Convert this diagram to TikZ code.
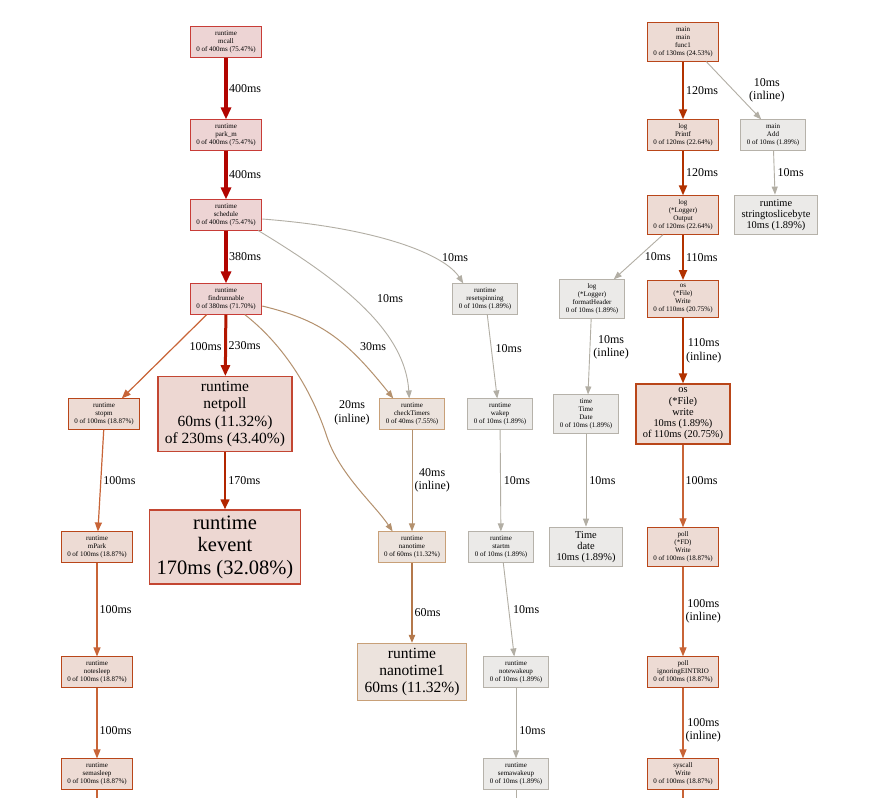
\documentclass[tikz,border=0pt]{standalone}
\usepackage{fontspec}
\setmainfont{Liberation Serif}
\usetikzlibrary{arrows.meta}
\definecolor{hotfill}{RGB}{237,212,212}
\definecolor{hotline}{RGB}{200,60,55}
\definecolor{netfill}{RGB}{237,215,210}
\definecolor{netline}{RGB}{195,70,50}
\definecolor{warmfill}{RGB}{237,219,212}
\definecolor{warmline}{RGB}{185,70,25}
\definecolor{tanfill}{RGB}{236,227,221}
\definecolor{tanline}{RGB}{200,160,120}
\definecolor{coldfill}{RGB}{235,234,232}
\definecolor{coldline}{RGB}{182,178,170}
\definecolor{c400}{RGB}{178,4,0}
\definecolor{c230}{RGB}{178,22,0}
\definecolor{c170}{RGB}{178,38,0}
\definecolor{c120}{RGB}{178,50,0}
\definecolor{c100}{RGB}{200,100,55}
\definecolor{c60}{RGB}{180,120,75}
\definecolor{c40}{RGB}{180,145,110}
\definecolor{c10}{RGB}{178,174,164}
\tikzset{fn/.style = {draw, line width=1pt, align=center, font=\fontsize{7}{8}\selectfont, inner xsep=6pt, inner ysep=4pt}}
\tikzset{fnmid/.style = {fn, line width=1.3pt, font=\fontsize{10.4}{11.2}\selectfont, inner xsep=7pt}}
\tikzset{fnbig/.style = {fn, line width=1.3pt, font=\fontsize{15.5}{17.3}\selectfont, inner xsep=7pt, inner ysep=4.5pt}}
\tikzset{fnhuge/.style = {fn, line width=1.3pt, font=\fontsize{20.5}{22.5}\selectfont, inner xsep=7.5pt, inner ysep=5.5pt}}
\tikzset{hot/.style = {fill=hotfill, draw=hotline}}
\tikzset{net/.style = {fill=netfill, draw=netline}}
\tikzset{warm/.style = {fill=warmfill, draw=warmline}}
\tikzset{tan/.style = {fill=tanfill, draw=tanline}}
\tikzset{cold/.style = {fill=coldfill, draw=coldline}}
\tikzset{lbl/.style = {font=\fontsize{12}{13.5}\selectfont, align=center, inner sep=0pt}}
\tikzset{e400/.style = {draw=c400, line width=4pt, -{Triangle[length=12pt, width=10pt]}}}
\tikzset{e230/.style = {draw=c230, line width=3pt, -{Triangle[length=11pt, width=9pt]}}}
\tikzset{e170/.style = {draw=c170, line width=2.5pt, -{Triangle[length=10pt, width=8.5pt]}}}
\tikzset{e120/.style = {draw=c120, line width=2pt, -{Triangle[length=10pt, width=8pt]}}}
\tikzset{e100/.style = {draw=c100, line width=1.2pt, -{Triangle[length=9pt, width=7pt]}}}
\tikzset{e60/.style = {draw=c60, line width=1.1pt, -{Triangle[length=8pt, width=6.5pt]}}}
\tikzset{e40/.style = {draw=c40, line width=1pt, -{Triangle[length=8pt, width=6pt]}}}
\tikzset{e10/.style = {draw=c10, line width=0.9pt, -{Triangle[length=8pt, width=6pt]}}}

\begin{document}
\begin{tikzpicture}[x=1pt, y=-1pt]
    \fill [white] (0, 0) rectangle (894, 798);
    \useasboundingbox (0, 0) rectangle (894, 798);

    % runtime scheduler column
    \node [fn, hot] (mcall) at (226, 42) {runtime\\mcall\\0 of 400ms (75.47\%)};
    \node [fn, hot] (parkm) at (226, 135) {runtime\\park\_m\\0 of 400ms (75.47\%)};
    \node [fn, hot] (sched) at (226, 215) {runtime\\schedule\\0 of 400ms (75.47\%)};
    \node [fn, hot] (find) at (226, 299) {runtime\\findrunnable\\0 of 380ms (71.70\%)};

    \node [fn, warm] (stopm) at (104, 414) {runtime\\stopm\\0 of 100ms (18.87\%)};
    \node [fnbig, net] (netpoll) at (225, 414) {runtime\\netpoll\\60ms (11.32\%)\\of 230ms (43.40\%)};
    \node [fn, tan] (ckt) at (412, 414) {runtime\\checkTimers\\0 of 40ms (7.55\%)};

    \node [fn, warm] (mpark) at (97, 547) {runtime\\mPark\\0 of 100ms (18.87\%)};
    \node [fnhuge, net] (kevent) at (225, 547) {runtime\\kevent\\170ms (32.08\%)};
    \node [fn, tan] (nano) at (412, 547) {runtime\\nanotime\\0 of 60ms (11.32\%)};

    \node [fn, warm] (notesleep) at (97, 672) {runtime\\notesleep\\0 of 100ms (18.87\%)};
    \node [fnbig, tan] (nano1) at (412, 672) {runtime\\nanotime1\\60ms (11.32\%)};
    \node [fn, warm] (semasleep) at (97, 774) {runtime\\semasleep\\0 of 100ms (18.87\%)};

    \node [fn, cold] (reset) at (485, 299) {runtime\\resetspinning\\0 of 10ms (1.89\%)};
    \node [fn, cold] (wakep) at (500, 414) {runtime\\wakep\\0 of 10ms (1.89\%)};
    \node [fn, cold] (startm) at (501, 547) {runtime\\startm\\0 of 10ms (1.89\%)};
    \node [fn, cold] (notewake) at (516, 672) {runtime\\notewakeup\\0 of 10ms (1.89\%)};
    \node [fn, cold] (semawake) at (516, 774) {runtime\\semawakeup\\0 of 10ms (1.89\%)};

    % log / os column
    \node [fn, cold] (fmthdr) at (592, 299) {log\\(*Logger)\\formatHeader\\0 of 10ms (1.89\%)};
    \node [fn, cold] (tdate) at (586, 414) {time\\Time\\Date\\0 of 10ms (1.89\%)};
    \node [fnmid, cold] (tdate2) at (586, 547) {Time\\date\\10ms (1.89\%)};

    \node [fn, warm] (func1) at (683, 42) {main\\main\\func1\\0 of 130ms (24.53\%)};
    \node [fn, warm] (printf) at (683, 135) {log\\Printf\\0 of 120ms (22.64\%)};
    \node [fn, warm] (output) at (683, 215) {log\\(*Logger)\\Output\\0 of 120ms (22.64\%)};
    \node [fn, warm] (oswrite) at (683, 299) {os\\(*File)\\Write\\0 of 110ms (20.75\%)};
    \node [fnmid, warm] (oswrite2) at (683, 414) {os\\(*File)\\write\\10ms (1.89\%)\\of 110ms (20.75\%)};
    \node [fn, warm] (pollw) at (683, 547) {poll\\(*FD)\\Write\\0 of 100ms (18.87\%)};
    \node [fn, warm] (eintr) at (683, 672) {poll\\ignoringEINTRIO\\0 of 100ms (18.87\%)};
    \node [fn, warm] (sysw) at (683, 774) {syscall\\Write\\0 of 100ms (18.87\%)};

    \node [fn, cold] (add) at (773, 135) {main\\Add\\0 of 10ms (1.89\%)};
    \node [fnmid, cold] (stsb) at (776, 215) {runtime\\stringtoslicebyte\\10ms (1.89\%)};

    \coordinate (semaend) at (97, 798);
    \coordinate (wakeend) at (516, 798);
    \coordinate (sysend) at (683, 798);

    % scheduler edges
    \draw [e400] (mcall) -- (parkm) node [lbl, midway, right=1pt] (l1) {400ms};
    \draw [e400] (parkm) -- (sched) node [lbl, midway, right=1pt] (l2) {400ms};
    \draw [e400] (sched) -- (find) node [lbl, midway, right=1pt] (l3) {380ms};
    \draw [e100] ([xshift=17pt]find.south west) -- ([xshift=54pt]stopm.north west) node [lbl, pos=0.385, right=15pt] (l4) {100ms};
    \draw [e230] (find) -- (netpoll) node [lbl, midway, right=1.5pt] (l5) {230ms};
    \draw [e10] ([yshift=-4pt]sched.east) .. controls (380, 228) and (445, 255) .. ([xshift=11pt]reset.north west);
    \node [lbl] (l6) at (455, 258) {10ms};
    \draw [e10] ([xshift=-4pt]sched.south east) .. controls (340, 280) and (405, 330) .. ([xshift=30pt]ckt.north west);
    \node [lbl] (l7) at (390, 299) {10ms};
    \draw [e40] ([yshift=-7pt]find.east) .. controls (320, 320) and (345, 338) .. ([xshift=14pt]ckt.north west);
    \node [lbl] (l8) at (373, 347) {30ms};
    \draw [e40] ([xshift=55pt]find.south west) .. controls (290, 350) and (315, 400) .. (327, 437) .. controls (340, 475) and (375, 505) .. ([xshift=15pt]nano.north west);
    \node [lbl] (l9) at (352, 413) {20ms\\(inline)};

    \draw [e100] ([xshift=36pt]stopm.south west) -- (mpark) node [lbl, midway, right=2pt] (l10) {100ms};
    \draw [e170] (netpoll) -- (kevent) node [lbl, midway, right=2pt] (l11) {170ms};
    \draw [e40] (ckt) -- (nano) node [lbl, midway, right=2pt] (l12) {40ms\\(inline)};
    \draw [e100] (mpark) -- (notesleep) node [lbl, midway, right=2pt] (l13) {100ms};
    \draw [e100] (notesleep) -- (semasleep) node [lbl, pos=0.6, right=2pt] (l14) {100ms};
    \draw [c100, line width=1.2pt] (semasleep) -- (semaend);
    \draw [e60] (nano) -- (nano1) node [lbl, pos=0.62, right=2pt] (l15) {60ms};

    \draw [e10] ([xshift=35pt]reset.south west) -- ([xshift=30pt]wakep.north west) node [lbl, pos=0.4, right=4pt] (l16) {10ms};
    \draw [e10] (wakep) -- (startm) node [lbl, midway, right=3pt] (l17) {10ms};
    \draw [e10] ([xshift=35pt]startm.south west) -- ([xshift=31pt]notewake.north west) node [lbl, midway, right=4pt] (l18) {10ms};
    \draw [e10] (notewake) -- (semawake) node [lbl, pos=0.6, right=3pt] (l19) {10ms};
    \draw [c10, line width=0.9pt] (semawake) -- (wakeend);

    % log and os edges
    \draw [e120] (func1) -- (printf) node [lbl, midway, right=2pt] (l20) {120ms};
    \draw [e120] (printf) -- (output) node [lbl, midway, right=2pt] (l21) {120ms};
    \draw [e120] (output) -- (oswrite) node [lbl, midway, right=2pt] (l22) {110ms};
    \draw [e10] ([xshift=-20pt]output.south) -- ([xshift=-11pt]fmthdr.north east) node [lbl, midway, right=6pt] (l23) {10ms};
    \draw [e10] (fmthdr) -- ([xshift=2pt]tdate.north) node [lbl, pos=0.38, right=3pt] (l24) {10ms\\(inline)};
    \draw [e10] (tdate) -- (tdate2) node [lbl, midway, right=3pt] (l25) {10ms};
    \draw [e120] (oswrite) -- (oswrite2) node [lbl, midway, right=2pt] (l26) {110ms\\(inline)};
    \draw [e100] (oswrite2) -- (pollw) node [lbl, pos=0.43, right=2pt] (l27) {100ms};
    \draw [e100] (pollw) -- (eintr) node [lbl, midway, right=2pt] (l28) {100ms\\(inline)};
    \draw [e100] (eintr) -- (sysw) node [lbl, pos=0.6, right=2pt] (l29) {100ms\\(inline)};
    \draw [c100, line width=1.2pt] (sysw) -- (sysend);

    \draw [e10] ([xshift=-13pt]func1.south east) -- ([xshift=21pt]add.north west) node [lbl, midway, right=15pt] (l30) {10ms\\(inline)};
    \draw [e10] (add) -- ([xshift=-1pt]stsb.north) node [lbl, midway, right=3pt] (l31) {10ms};
\end{tikzpicture}
\end{document}
